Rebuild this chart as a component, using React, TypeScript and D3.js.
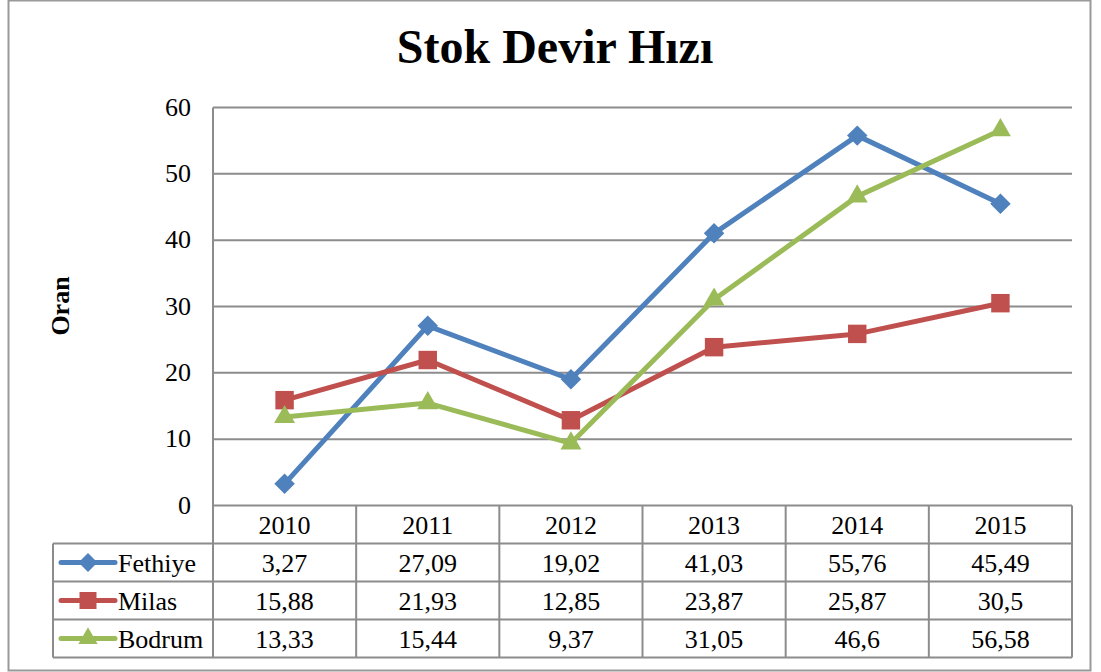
import React from 'react';
import * as d3 from 'd3';

const years = ['2010', '2011', '2012', '2013', '2014', '2015'];
const fethiye = [3.27, 27.09, 19.02, 41.03, 55.76, 45.49];
const milas = [15.88, 21.93, 12.85, 23.87, 25.87, 30.5];
const bodrum = [13.33, 15.44, 9.37, 31.05, 46.6, 56.58];
const yTicks = [0, 10, 20, 30, 40, 50, 60];

// diamond = square turned 45 degrees
const series = [
  { name: 'Fethiye', values: fethiye, color: '#4F81BD', symbol: d3.symbolSquare, size: 210, rot: 45 },
  { name: 'Milas', values: milas, color: '#C0504D', symbol: d3.symbolSquare, size: 340, rot: 0 },
  { name: 'Bodrum', values: bodrum, color: '#9BBB59', symbol: d3.symbolTriangle, size: 190, rot: 0 },
];

const fmt = (v: number) => String(v).replace('.', ',');

const App: React.FC = () => {
  const left = 213;
  const right = 1072;
  const top = 107.5;
  const bottom = 505.5;
  const rowH = 38;
  const legendLeft = 53;
  const fs = 26;

  const x = d3.scaleBand().domain(years).range([left, right]);
  const y = d3.scaleLinear().domain([0, 60]).range([bottom, top]);
  const line = d3
    .line<number>()
    .x((_, i) => x(years[i])! + x.bandwidth() / 2)
    .y((d) => y(d));

  const grid = '#8c8c8c';
  const font = '"Liberation Serif", "Times New Roman", serif';
  const tableBottom = bottom + rowH * 4;

  return (
    <svg width={1101} height={672} style={{ position: 'absolute', left: 0, top: 0, fontFamily: font }}>
      <rect x={0} y={0} width={1101} height={672} fill="#fff" />
      <rect x={8.5} y={0.5} width={1082} height={670} fill="none" stroke="#999" strokeWidth={2} />
      <text x={555} y={63} textAnchor="middle" fontSize={48} fontWeight="bold">
        Stok Devir Hızı
      </text>
      <text transform="translate(69,306) rotate(-90)" textAnchor="middle" fontSize={fs} fontWeight="bold">
        Oran
      </text>

      {yTicks.map((t) => (
        <g key={t}>
          {t > 0 && <line x1={left} x2={right} y1={y(t)} y2={y(t)} stroke={grid} strokeWidth={2} />}
          <text x={191} y={y(t) + 8} textAnchor="end" fontSize={fs}>
            {t}
          </text>
        </g>
      ))}
      <line x1={left} x2={left} y1={top} y2={tableBottom} stroke={grid} strokeWidth={2} />

      {/* data table */}
      {[0, 1, 2, 3, 4].map((r) => (
        <line
          key={r}
          x1={r === 0 ? left : legendLeft}
          x2={right}
          y1={bottom + r * rowH}
          y2={bottom + r * rowH}
          stroke={grid}
          strokeWidth={2}
        />
      ))}
      <line x1={legendLeft} x2={legendLeft} y1={bottom + rowH} y2={tableBottom} stroke={grid} strokeWidth={2} />
      {years.map((yr) => (
        <g key={yr}>
          <line
            x1={x(yr)! + x.bandwidth()}
            x2={x(yr)! + x.bandwidth()}
            y1={bottom}
            y2={tableBottom}
            stroke={grid}
            strokeWidth={2}
          />
          <text x={x(yr)! + x.bandwidth() / 2} y={bottom + 28} textAnchor="middle" fontSize={fs}>
            {yr}
          </text>
        </g>
      ))}
      {series.map((s, r) => {
        const cy = bottom + rowH * (r + 1) + rowH / 2;
        return (
          <g key={s.name}>
            <line x1={61} x2={115} y1={cy} y2={cy} stroke={s.color} strokeWidth={5} strokeLinecap="round" />
            <path
              d={d3.symbol().type(s.symbol).size(s.size * 0.85)()!}
              transform={`translate(88,${cy}) rotate(${s.rot})`}
              fill={s.color}
            />
            <text x={118} y={cy + 9} fontSize={fs}>
              {s.name}
            </text>
            {s.values.map((v, i) => (
              <text key={i} x={x(years[i])! + x.bandwidth() / 2} y={cy + 9} textAnchor="middle" fontSize={fs}>
                {fmt(v)}
              </text>
            ))}
          </g>
        );
      })}

      {/* lines */}
      {series.map((s) => (
        <g key={s.name}>
          <path d={line(s.values)!} fill="none" stroke={s.color} strokeWidth={5} strokeLinejoin="round" />
          {s.values.map((v, i) => (
            <path
              key={i}
              d={d3.symbol().type(s.symbol).size(s.size)()!}
              transform={`translate(${x(years[i])! + x.bandwidth() / 2},${y(v)}) rotate(${s.rot})`}
              fill={s.color}
            />
          ))}
        </g>
      ))}
    </svg>
  );
};

export default App;
